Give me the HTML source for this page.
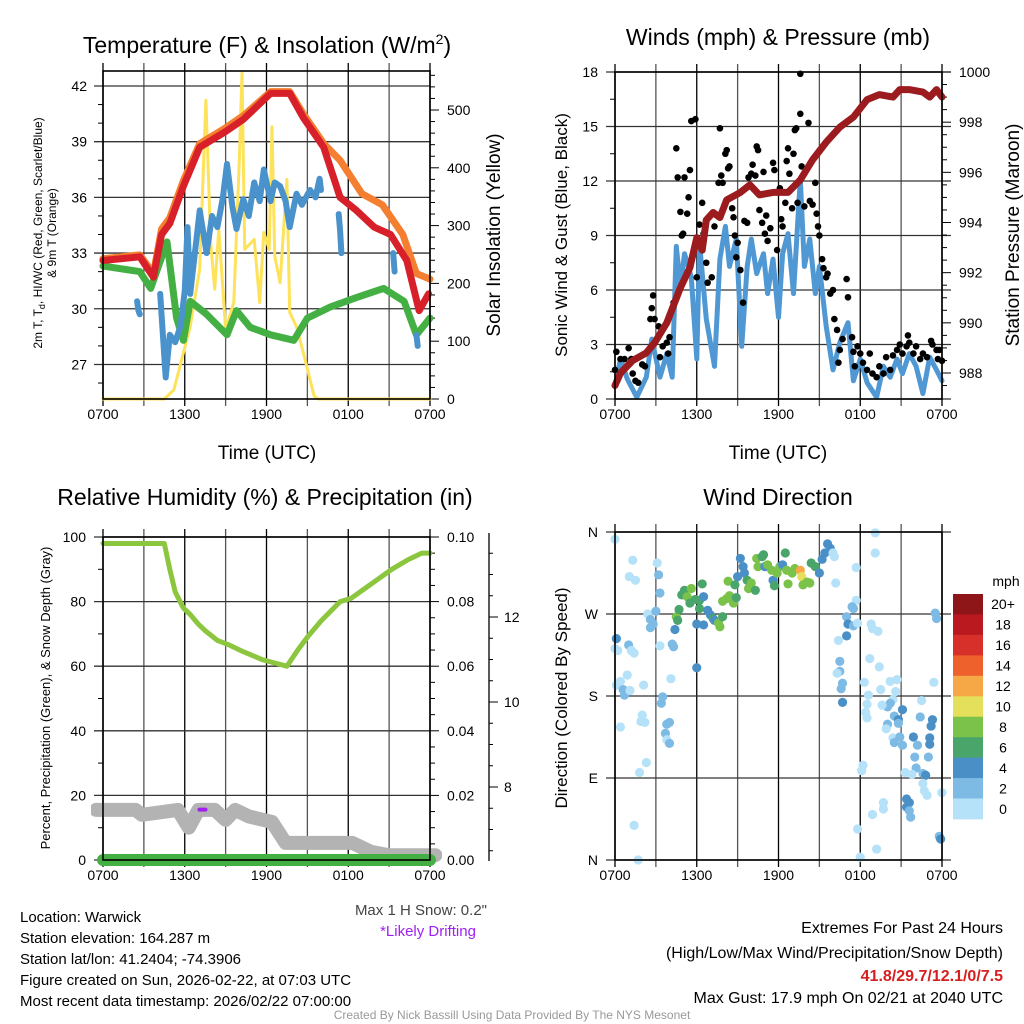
<!DOCTYPE html>
<html><head><meta charset="utf-8"><style>
html,body{margin:0;padding:0;background:#fff;}
svg{display:block;font-family:"Liberation Sans",Arial,sans-serif;}
</style></head><body>
<svg id="fig" width="1024" height="1024" viewBox="0 0 1024 1024" xmlns="http://www.w3.org/2000/svg">
<rect width="1024" height="1024" fill="#fff"/>
<g id="p1"></g>
<g id="p2"></g>
<g id="p3"></g>
<g id="p4"></g>

<text x="267" y="53" font-size="23" text-anchor="middle">Temperature (F) &amp; Insolation (W/m<tspan dy="-9" font-size="14">2</tspan><tspan dy="9">)</tspan></text>
<text x="778" y="45" font-size="23" text-anchor="middle">Winds (mph) &amp; Pressure (mb)</text>
<text x="265" y="505" font-size="23" text-anchor="middle">Relative Humidity (%) &amp; Precipitation (in)</text>
<text x="778" y="505" font-size="23" text-anchor="middle">Wind Direction</text>

<text x="267" y="459" font-size="19" text-anchor="middle">Time (UTC)</text>
<text x="778" y="459" font-size="19" text-anchor="middle">Time (UTC)</text>

<text transform="translate(42,233) rotate(-90)" font-size="12" text-anchor="middle">2m T, T<tspan dy="3" font-size="9">d</tspan><tspan dy="-3">, HI/WC (Red, Green, Scarlet/Blue)</tspan></text>
<text transform="translate(56,233) rotate(-90)" font-size="12" text-anchor="middle">&amp; 9m T (Orange)</text>
<text transform="translate(500,235) rotate(-90)" font-size="19" text-anchor="middle">Solar Insolation (Yellow)</text>
<text transform="translate(567,235) rotate(-90)" font-size="17" text-anchor="middle">Sonic Wind &amp; Gust (Blue, Black)</text>
<text transform="translate(1019,235) rotate(-90)" font-size="19" text-anchor="middle">Station Pressure (Maroon)</text>
<text transform="translate(50,698) rotate(-90)" font-size="13" text-anchor="middle">Percent, Precipitation (Green), &amp; Snow Depth (Gray)</text>
<text transform="translate(567,698) rotate(-90)" font-size="17" text-anchor="middle">Direction (Colored By Speed)</text>

<text x="487" y="915" font-size="15" fill="#444" text-anchor="end">Max 1 H Snow: 0.2"</text>
<text x="428" y="936" font-size="15" fill="#a020f0" text-anchor="middle">*Likely Drifting</text>

<g font-size="15">
<text x="20" y="922">Location: Warwick</text>
<text x="20" y="943">Station elevation: 164.287 m</text>
<text x="20" y="964">Station lat/lon: 41.2404; -74.3906</text>
<text x="20" y="985">Figure created on Sun, 2026-02-22, at 07:03 UTC</text>
<text x="20" y="1006">Most recent data timestamp: 2026/02/22 07:00:00</text>
</g>
<g font-size="16" text-anchor="end">
<text x="1003" y="933">Extremes For Past 24 Hours</text>
<text x="1003" y="958">(High/Low/Max Wind/Precipitation/Snow Depth)</text>
<text x="1003" y="981" fill="#d62020" font-weight="bold">41.8/29.7/12.1/0/7.5</text>
<text x="1003" y="1003">Max Gust: 17.9 mph On 02/21 at 2040 UTC</text>
</g>
<text x="512" y="1019" font-size="12" fill="#999" text-anchor="middle">Created By Nick Bassill Using Data Provided By The NYS Mesonet</text>
</svg>
<script>
// ---------- DATA ----------
const timeTickLabels = ["0700","1300","1900","0100","0700"];
// Panel 1
const tempHours = [0,2.7,3.7,4.3,4.9,5.9,7.1,8.9,10.3,12.3,13.7,14.7,16.2,17.4,18.6,19.9,21.1,22.3,23.2,23.9];
const tempValues = [32.6,32.8,31.7,34.0,34.6,36.6,38.7,39.5,40.2,41.6,41.6,40.3,38.7,36.0,35.3,34.4,34.0,32.6,29.9,30.8];
const t9Hours = [0,2.7,3.7,4.3,4.9,5.9,7.1,8.9,10.3,12.3,13.7,14.7,16.2,17.4,19.0,20.5,22.0,23.0,24.0];
const t9Values = [32.7,32.9,31.9,34.3,34.9,36.9,38.9,39.7,40.4,41.7,41.7,40.5,38.9,38.0,36.2,35.6,34.0,31.9,31.6];
const dewHours = [0,2.7,3.5,4.7,5.4,5.9,6.4,7.6,9.1,9.8,10.8,12.3,14.0,15.0,16.7,18.6,20.6,22.1,23.0,24.0];
const dewValues = [32.3,32.0,31.1,33.6,29.5,28.3,30.4,29.7,28.6,29.9,29.0,28.6,28.3,29.5,30.1,30.6,31.1,30.4,28.6,29.5];
const wcHours = [2.5,2.6,2.7,null,4.2,4.4,4.6,4.9,5.3,5.7,6.0,6.2,6.4,6.9,7.1,7.6,8.0,8.4,8.8,9.1,9.5,9.8,10.3,10.7,11.1,11.5,11.8,12.3,12.6,13.0,13.4,13.7,14.2,14.6,15.2,15.6,15.9,16.0,null,17.3,17.4,17.5,null,21.3,21.4,null,23.0,23.1];
const wcValues = [30.4,29.9,29.7,null,30.8,28.5,26.3,28.6,28.2,29.1,31.0,34.4,30.8,34.0,35.3,33.0,35.0,34.4,36.0,37.8,35.5,34.3,35.9,35.0,36.8,35.8,37.5,35.8,36.8,36.6,35.8,34.4,36.2,35.6,36.4,36.0,37.0,36.4,null,35.1,34.2,33.0,null,33.0,32.0,null,28.6,28.0];
const solarHours = [0,4.5,5.2,5.9,6.4,7.1,7.55,7.9,8.2,8.5,9.0,9.6,10.0,10.2,10.4,11.1,11.5,11.8,12.2,12.4,12.6,13.0,13.5,13.7,14.2,14.7,15.5,15.8,24];
const solarValues = [0,0,16,80,125,225,517,272,190,294,121,167,413,564,259,276,167,288,259,471,248,201,380,150,125,80,5,0,0];
const tempTicks = [27,30,33,36,39,42];
const solarTicks = [0,100,200,300,400,500];
// Panel 2
const windHours = [0,0.4,0.9,1.6,2.3,2.7,3.3,3.8,4.2,4.5,4.8,5.1,5.6,6.0,6.2,6.7,7.3,7.7,8.1,8.4,8.9,9.3,9.7,10.0,10.4,10.9,11.2,11.6,12.0,12.3,12.7,13.1,13.6,13.9,14.3,14.7,15.0,15.5,16.0,16.5,17.1,17.5,18.0,18.5,19.2,19.7,20.2,20.7,21.1,21.6,22.1,22.6,23.1,23.6,24.0];
const windValues = [0.7,2.2,1.1,0.1,1.2,3.3,1.2,2.5,1.2,8.4,6.2,8.0,6.7,2.2,8.6,4.4,1.8,7.7,9.5,7.3,8.8,2.9,7.3,8.8,6.9,8.0,5.8,7.7,4.5,8.0,9.1,5.8,12.1,7.3,8.8,5.8,7.3,4.0,1.6,3.1,4.2,1.0,2.2,0.9,0.1,1.8,1.2,2.2,1.4,2.5,1.8,0.3,2.3,1.6,1.0];
const gustHours = [0.0,0.1,0.4,0.7,1.0,1.2,1.3,1.5,1.7,2.0,2.2,2.6,2.7,2.8,2.9,3.2,3.3,3.5,3.8,3.9,4.0,4.3,4.5,4.6,4.8,4.9,5.0,5.1,5.3,5.4,5.5,5.6,5.9,6.0,6.2,6.4,6.5,6.7,6.8,7.1,7.3,7.5,7.6,7.7,7.8,7.9,8.1,8.2,8.3,8.4,8.6,8.7,8.8,8.9,9.0,9.2,9.4,9.5,9.7,9.8,10.0,10.1,10.3,10.4,10.5,10.6,10.8,10.9,11.0,11.1,11.2,11.4,11.6,11.7,11.9,12.1,12.2,12.3,12.5,12.6,12.7,12.8,13.0,13.1,13.2,13.3,13.4,13.6,13.6,13.7,13.9,14.2,14.3,14.5,14.7,14.8,14.9,15.0,15.2,15.3,15.5,15.6,15.8,16.0,16.1,16.3,16.4,16.5,16.7,17.0,17.1,17.4,17.5,17.6,17.8,18.0,18.2,18.5,18.7,18.9,19.2,19.4,19.7,19.9,20.2,20.4,20.7,20.9,21.1,21.4,21.5,21.6,21.9,22.1,22.4,22.6,22.9,23.2,23.3,23.6,23.7,23.8,24.0];
const gustValues = [1.6,2.6,2.2,2.2,2.8,2.2,1.4,1.0,0.9,1.9,1.8,4.4,5.0,5.7,4.4,4.0,2.3,2.9,3.1,2.5,3.4,5.3,13.8,12.2,10.3,9.0,9.1,12.2,10.2,11.1,12.6,15.3,15.4,6.7,9.6,10.8,9.1,7.5,6.4,6.7,9.5,10.1,11.9,14.9,12.3,11.9,13.5,13.7,12.7,12.8,10.5,10.0,9.0,7.8,8.6,7.1,5.3,9.8,9.7,12.2,12.4,12.9,12.3,13.9,13.7,10.4,9.7,12.5,9.1,10.1,8.7,9.4,13.0,12.6,8.2,11.6,9.9,9.5,10.8,13.1,13.8,12.4,10.5,13.5,14.8,14.9,10.8,15.7,17.9,12.8,10.6,15.2,10.9,10.7,11.9,10.2,9.5,9.0,7.7,7.2,6.7,6.9,5.8,6.0,4.4,3.8,2.0,2.7,3.3,6.6,5.6,3.4,2.6,1.8,2.9,2.5,2.0,1.6,2.5,1.4,1.2,1.8,1.4,2.3,1.6,2.4,2.7,3.0,2.5,2.9,3.5,3.1,2.5,2.9,2.2,2.5,2.3,3.2,3.0,2.7,2.2,2.7,2.1];
const presHours = [0,0.4,1.3,2.3,2.9,3.8,4.8,5.5,6.0,6.4,6.7,7.2,7.7,8.2,9.2,9.9,10.6,11.6,12.7,13.6,14.5,15.5,16.5,17.5,18.5,19.4,20.4,20.9,21.6,22.6,23.1,23.6,24.0];
const presValues = [987.5,988.0,988.5,988.8,989.2,990.0,991.4,992.2,993.4,992.9,994.1,994.4,994.2,994.9,995.2,995.5,995.1,995.2,995.2,995.7,996.5,997.2,997.8,998.2,998.9,999.1,999.0,999.3,999.3,999.2,999.0,999.3,999.0];
const windTicks = [0,3,6,9,12,15,18];
const presTicks = [988,990,992,994,996,998,1000];
// Panel 3
const rhHours = [0,4.5,4.9,5.3,5.9,6.4,7.0,7.5,8.4,9.3,10.3,11.7,12.6,13.5,14.3,15.0,16.0,17.4,18.2,19.2,20.2,21.2,22.4,23.4,24];
const rhValues = [98,98,90,83,78,76,73,71,68,66.5,64.5,62,61,60,65,69,74,80,81,84,87,90,93,95,95];
const snowHours = [-0.5,2.4,2.85,5.5,6.3,7.0,8.2,9.0,9.7,10.7,12.4,13.4,18.3,19.7,21.0,24.4];
const snowValues = [15.5,15.5,14,15.5,10,15.5,15.5,12.4,15.5,13.5,11.8,5.3,5.3,2.5,1.5,1.5];
const precipHours = [0,24];
const precipValues = [0,0];
const driftHours = [7.3];
const driftValues = [15.6];
const rhTicks = [0,20,40,60,80,100];
const precipTicks = ["0.00","0.02","0.04","0.06","0.08","0.10"];
const snowAxisTicks = [8,10,12];
// Panel 4
const dirHours = [0.0,1.3,1.05,1.5,3.1,3.2,3.3,2.4,2.6,2.8,3.0,2.6,0.1,0.0,0.2,1.0,1.2,1.4,3.3,4.2,4.3,4.4,6.0,4.1,0.9,0.4,0.1,0.6,0.7,1.1,2.1,3.5,3.4,0.4,2.0,1.9,2.2,3.8,4.0,3.7,3.8,4.0,2.3,1.8,1.4,1.7,
4.5,4.6,4.7,4.9,5.1,5.3,5.5,5.6,5.9,6.2,6.2,6.4,6.5,6.0,6.5,6.8,7.0,7.2,7.3,7.6,7.7,7.9,7.9,8.2,8.3,8.4,8.7,8.8,8.9,9.0,9.2,9.4,9.5,9.7,9.8,10.0,10.3,10.4,10.5,10.8,10.9,11.0,11.2,11.5,11.6,11.7,11.9,12.1,12.3,12.5,12.6,12.7,13.0,13.2,13.6,13.7,13.8,14.1,14.3,14.4,14.7,15.0,15.2,15.4,15.6,15.8,16.0,16.1,16.2,17.7,
19.1,19.1,17.7,17.4,17.5,17.0,17.1,17.5,17.8,18.8,18.9,19.3,17.0,16.4,16.5,16.5,16.3,16.7,16.6,16.7,18.7,19.4,18.3,18.6,19.5,20.2,20.7,20.6,20.4,20.2,20.0,19.6,18.5,18.4,18.5,21.1,20.5,20.8,20.8,20.0,19.9,20.4,20.9,21.1,20.5,21.9,22.2,22.4,22.5,23.3,23.2,23.1,23.1,22.0,23.0,22.1,21.3,21.8,22.6,22.8,22.6,22.7,22.9,21.4,21.6,21.4,21.6,21.7,19.7,19.7,18.9,18.2,18.1,17.8,18.0,19.2,23.4,23.5,23.6,24.0,23.8,23.9];
const dirDegrees = [352,329,311,307,326,313,293,270,264,259,273,255,243,232,230,236,230,227,235,237,234,253,211,199,203,196,192,187,181,186,192,179,172,146,159,152,151,149,151,139,132,128,107,96,38,0,
267,263,275,291,296,289,282,298,286,276,285,303,289,259,258,274,269,265,263,260,256,267,284,287,306,290,282,302,288,311,331,322,315,307,298,304,296,331,322,333,335,322,324,318,307,301,315,322,324,337,318,303,315,320,318,311,302,305,304,326,322,315,330,337,347,342,337,333,304,321,
359,337,285,278,276,267,259,257,260,259,254,251,246,241,218,207,205,194,188,173,221,212,195,181,187,196,198,185,176,172,168,170,171,162,156,165,158,154,150,149,144,134,135,126,129,135,126,157,175,154,147,134,127,113,113,101,96,94,95,93,84,76,71,67,63,58,54,47,63,56,50,104,98,34,3,12,195,271,265,74,26,23];
const dirSpeeds = [1,1,1,1,1,3,3,1,3,3,3,3,5,1,1,3,1,1,1,3,3,5,5,1,1,1,1,3,3,1,1,3,3,1,1,1,1,3,3,3,1,3,1,1,1,1,
9,7,7,7,7,9,7,9,7,7,7,7,5,5,5,5,5,7,5,9,9,7,9,9,9,9,9,7,7,5,5,5,5,7,9,9,7,9,9,7,7,5,9,9,5,7,9,9,5,7,9,9,9,9,13,11,9,9,9,7,7,5,5,5,5,5,1,1,1,1,
1,1,1,3,3,3,5,3,1,1,1,1,5,1,3,3,1,3,3,5,1,1,1,1,1,1,1,1,1,3,3,1,1,1,1,5,3,5,3,3,1,1,3,3,3,5,3,3,1,5,5,5,5,3,3,3,1,1,3,5,1,1,1,5,5,5,3,3,1,1,1,1,1,1,1,1,1,3,3,1,3,5];
const dirTickLabels = ["N","E","S","W","N"];
const colorbarLabels = ["20+","18","16","14","12","10","8","6","4","2","0"];
const colorbarColors = ["#8e1518","#b9191f","#d7302a","#ee612c","#f5a845","#e5e05b","#7bc24a","#4aa56b","#4a90c7","#7dbbe5","#b5e2f8"];

// ---------- DRAWING ----------
const NS = "http://www.w3.org/2000/svg";
function mk(parent, tag, attrs, text){
  const e = document.createElementNS(NS, tag);
  for (const k in attrs) e.setAttribute(k, attrs[k]);
  if (text !== undefined) e.textContent = text;
  parent.appendChild(e);
  return e;
}
function linScale(d0,d1,r0,r1){ return v => r0 + (v-d0)*(r1-r0)/(d1-d0); }

function frame(g, L, R, T, B, tPrefix){
  const x = linScale(0,24,L,R);
  // vertical grid every 3h
  for (let h=0; h<=24; h+=3){
    const ln = mk(g,'line',{x1:x(h),x2:x(h),y1:T-8,y2:B+7,stroke:(h%6===0)?'#000':'#555','stroke-width':1.3});
    
    
  }
  timeTickLabels.forEach((lab,i)=>{
    const t = mk(g,'text',{x:x(i*6),y:B+20,'font-size':14,'text-anchor':'middle'},lab);
    
    
  });
  return x;
}
function border(g,L,R,T,B,name){
  const r = mk(g,'rect',{x:L,y:T,width:R-L,height:B-T,fill:'none',stroke:'#000','stroke-width':1.6});
  
  
}
function pathFrom(xs, ys, fx, fy){
  let d='', pen=false;
  for (let i=0;i<xs.length;i++){
    if (xs[i]===null || ys[i]===null){ pen=false; continue; }
    d += (pen?'L':'M') + fx(xs[i]).toFixed(1) + ',' + fy(ys[i]).toFixed(1);
    pen=true;
  }
  return d;
}
function series(g, xs, ys, fx, fy, color, w, name){
  const p = mk(g,'path',{d:pathFrom(xs,ys,fx,fy),fill:'none',stroke:color,'stroke-width':w,'stroke-linejoin':'round','stroke-linecap':'round'});
  
  
  return p;
}

// ----- Panel 1 -----
(function(){
  const g = document.getElementById('p1');
  const L=103,R=430,T=71,B=399;
  const x = frame(g,L,R,T,B,'temperature');
  const y = linScale(42,25.14,86,B);
  const yS = linScale(0,500,B,110);
  tempTicks.forEach(v=>{
    const ln = mk(g,'line',{x1:L-9,x2:R,y1:y(v),y2:y(v),stroke:'#333','stroke-width':1.3});
    
    
    const t = mk(g,'text',{x:L-16,y:y(v)+5,'font-size':14,'text-anchor':'end'},String(v));
    
    
  });
  for (let v=26; v<=42; v++){ if (v%3) mk(g,'line',{x1:L-5,x2:L,y1:y(v),y2:y(v),stroke:'#000'}); }
  for (let v=0; v<=560; v+=20){
    const major = v%100===0;
    mk(g,'line',{x1:R,x2:R+(major?9:5),y1:yS(v),y2:yS(v),stroke:'#000'});
    if (major){
      const t = mk(g,'text',{x:R+17,y:yS(v)+5,'font-size':14},String(v));
      
      
    }
  }
  series(g,solarHours,solarValues,x,yS,'#fde25a',3,'solar-insolation-line');
  series(g,dewHours,dewValues,x,y,'#44b043',7,'dewpoint-line');
  series(g,t9Hours,t9Values,x,y,'#f47f30',7,'temp-9m-line');
  series(g,tempHours,tempValues,x,y,'#d7202a',7,'temp-2m-line');
  series(g,wcHours,wcValues,x,y,'#4a92cc',6,'wind-chill-line');
  border(g,L,R,T,B,'temperature-plot-area');
})();

// ----- Panel 2 -----
(function(){
  const g = document.getElementById('p2');
  const L=615,R=942,T=72,B=399;
  const x = frame(g,L,R,T,B,'winds');
  const y = linScale(0,18,B,T);
  const yP = linScale(988,1000,373,72);
  windTicks.forEach(v=>{
    const ln = mk(g,'line',{x1:L-9,x2:R+9,y1:y(v),y2:y(v),stroke:'#333','stroke-width':1.3});
    
    
    const t = mk(g,'text',{x:L-17,y:y(v)+5,'font-size':14,'text-anchor':'end'},String(v));
    
    
  });
  for (let v=1.5; v<18; v+=3) mk(g,'line',{x1:L-5,x2:L,y1:y(v),y2:y(v),stroke:'#000'});
  for (let v=987.5; v<=1000.01; v+=0.5){
    const major = Math.abs(v%2)<0.01;
    mk(g,'line',{x1:R,x2:R+(major?9:5),y1:yP(v),y2:yP(v),stroke:'#000'});
  }
  presTicks.forEach(v=>{
    const t = mk(g,'text',{x:R+17,y:yP(v)+5,'font-size':14},String(v));
    
    
  });
  series(g,windHours,windValues,x,y,'#4f98d3',5,'sonic-wind-line');
  gustHours.forEach((h,i)=>{
    const c = mk(g,'circle',{cx:x(h),cy:y(gustValues[i]),r:3.3,fill:'#000'});
    
    
  });
  series(g,presHours,presValues,x,yP,'#9b1b1e',7,'pressure-line');
  border(g,L,R,T,B,'winds-plot-area');
})();

// ----- Panel 3 -----
(function(){
  const g = document.getElementById('p3');
  const L=103,R=430,T=537,B=860;
  const x = frame(g,L,R,T,B,'humidity');
  const y = linScale(0,100,B,T);
  const ySnow = linScale(8,12,787,617);
  rhTicks.forEach(v=>{
    const ln = mk(g,'line',{x1:L-9,x2:R,y1:y(v),y2:y(v),stroke:'#333','stroke-width':1.3});
    
    
    const t = mk(g,'text',{x:L-17,y:y(v)+5,'font-size':14,'text-anchor':'end'},String(v));
    
    
  });
  for (let v=10; v<100; v+=20) mk(g,'line',{x1:L-5,x2:L,y1:y(v),y2:y(v),stroke:'#000'});
  for (let v=0; v<=100; v+=5) mk(g,'line',{x1:R,x2:R+(v%20===0?9:5),y1:y(v),y2:y(v),stroke:'#000'});
  precipTicks.forEach((lab,i)=>{
    const t = mk(g,'text',{x:R+17,y:y(i*20)+5,'font-size':14},lab);
    
    
  });
  const ax = mk(g,'line',{x1:489,x2:489,y1:533,y2:861,stroke:'#000','stroke-width':1.3});
  
  
  for (let v=6.5; v<=13.5; v+=0.5){
    const yy = ySnow(v); if (yy<534||yy>860) continue;
    mk(g,'line',{x1:489,x2:489+(v%2===0?9:4),y1:yy,y2:yy,stroke:'#000'});
  }
  snowAxisTicks.forEach(v=>{
    const t = mk(g,'text',{x:504,y:ySnow(v)+5,'font-size':14},String(v));
    
    
  });
  const clip = mk(g,'clipPath',{id:'c3'});
  mk(clip,'rect',{x:L-12,y:T,width:R-L+24,height:B-T+12});
  const cg = mk(g,'g',{'clip-path':'url(#c3)'});
  series(cg,snowHours,snowValues,x,y,'#b3b3b3',14,'snow-depth-line');
  series(cg,precipHours,precipValues,x,y,'#44b043',12,'precipitation-line');
  series(g,rhHours,rhValues,x,y,'#8cc63f',5,'relative-humidity-line');
  driftHours.forEach((h,i)=>{
    const r = mk(g,'rect',{x:x(h)-5,y:y(driftValues[i])-2,width:10,height:4,rx:2,fill:'#a020f0'});
    
    
  });
  border(g,L,R,T,B,'humidity-plot-area');
})();

// ----- Panel 4 -----
(function(){
  const g = document.getElementById('p4');
  const L=615,R=942,T=532,B=860;
  const x = frame(g,L,R,T,B,'direction');
  const y = linScale(0,360,B,T);
  dirTickLabels.forEach((lab,i)=>{
    const v = i*90;
    const ln = mk(g,'line',{x1:L-9,x2:R+9,y1:y(v),y2:y(v),stroke:'#333','stroke-width':1.3});
    
    
    const t = mk(g,'text',{x:L-17,y:y(v)+5,'font-size':14,'text-anchor':'end'},lab);
    
    
  });
  function colorFor(s){ let idx = 10 - Math.min(10, Math.floor(s/2)); return colorbarColors[idx]; }
  dirHours.forEach((h,i)=>{
    const c = mk(g,'circle',{cx:x(h),cy:y(dirDegrees[i]),r:4.6,fill:colorFor(dirSpeeds[i])});
    
    
  });
  border(g,L,R,T,B,'direction-plot-area');
  const cb = mk(g,'g',{});
  
  
  const cy0=594, ch=225/11;
  colorbarColors.forEach((col,i)=>{
    const r = mk(cb,'rect',{x:953,y:cy0+i*ch,width:30,height:ch+0.4,fill:col});
    
    
  });
  colorbarLabels.forEach((lab,i)=>{
    const t = mk(cb,'text',{x:1003,y:cy0+i*ch+ch/2+5,'font-size':14,'text-anchor':'middle'},lab);
    
    
  });
  const u = mk(cb,'text',{x:1006,y:586,'font-size':14,'text-anchor':'middle'},'mph');
  
  
})();
</script>
</body></html>
